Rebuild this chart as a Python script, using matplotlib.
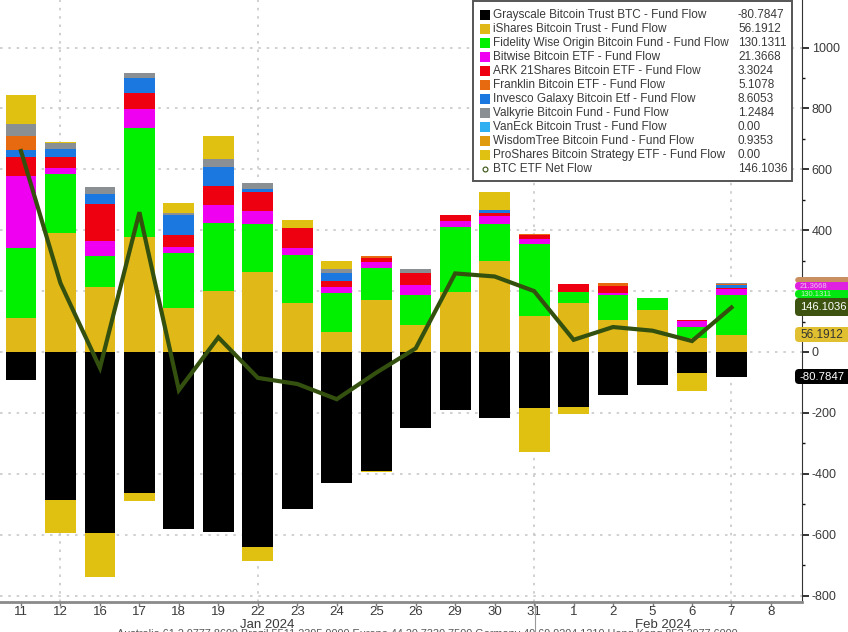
#!/usr/bin/env python3
"""Daily spot bitcoin ETF fund flows, stacked by fund, with net flow line."""

import matplotlib
matplotlib.use("Agg")
import matplotlib.pyplot as plt
import numpy as np
from matplotlib.patches import FancyBboxPatch, Rectangle
from matplotlib.transforms import Affine2D

plt.rcParams["font.family"] = ["Liberation Sans", "DejaVu Sans"]
plt.rcParams["axes.unicode_minus"] = False

days = ["11", "12", "16", "17", "18", "19", "22", "23", "24", "25", "26", "29", "30", "31",
        "1", "2", "5", "6", "7", "8"]

grayscale = [-92, -485, -593, -462, -580, -590, -640, -515, -430, -390, -250, -190, -216, -183, -180, -140, -108, -70, -80.78]
outflow_gold = [0, -108, -145, -26, 0, 0, -45, 0, 0, -5, 0, 0, 0, -145, -25, 0, 0, -58, 0]

ishares = [113, 390, 213, 377, 144, 200, 262, 160, 66, 170, 88, 197, 298, 118, 160, 105, 138, 46, 56.19]
fidelity = [227, 193, 102, 358, 181, 223, 158, 158, 127, 105, 99, 213, 122, 236, 37, 82, 38, 36, 130.13]
bitwise = [237, 20, 50, 62, 20, 59, 43, 24, 20, 20, 33, 20, 26, 16, 0, 6, 0, 20, 21.37]
ark = [63, 37, 120, 52, 38, 62, 62, 64, 20, 13, 38, 19, 10, 14, 25, 23, 0, 3, 3.30]
invesco = [22, 28, 33, 51, 66, 63, 10, 0, 26, 0, 0, 0, 10, 0, 0, 0, 0, 0, 8.61]
franklin = [46, 0, 0, 0, 0, 0, 0, 0, 0, 7, 0, 0, 0, 4, 0, 10, 0, 0, 5.11]
valkyrie = [42, 17, 23, 15, 6, 26, 19, 0, 13, 0, 14, 0, 0, 0, 0, 0, 0, 0, 1.25]
wisdomtree = [0, 0, 0, 0, 0, 0, 0, 0, 0, 0, 0, 0, 0, 0, 0, 0, 0, 0, 0.94]
proshares = [95, 5, 0, 0, 33, 75, 0, 26, 28, 0, 0, 0, 59, 0, 0, 0, 0, 0, 0]
net_flow = [660, 226, -52, 459, -125, 48, -85, -105, -155, -68, 12, 258, 248, 200, 40, 82, 70, 36, 146.10]

fund_names = [
    "Grayscale Bitcoin Trust BTC - Fund Flow",
    "iShares Bitcoin Trust - Fund Flow",
    "Fidelity Wise Origin Bitcoin Fund - Fund Flow",
    "Bitwise Bitcoin ETF - Fund Flow",
    "ARK 21Shares Bitcoin ETF - Fund Flow",
    "Franklin Bitcoin ETF - Fund Flow",
    "Invesco Galaxy Bitcoin Etf - Fund Flow",
    "Valkyrie Bitcoin Fund - Fund Flow",
    "VanEck Bitcoin Trust - Fund Flow",
    "WisdomTree Bitcoin Fund - Fund Flow",
    "ProShares Bitcoin Strategy ETF - Fund Flow",
]
last_values = ["-80.7847", "56.1912", "130.1311", "21.3668", "3.3024", "5.1078", "8.6053", "1.2484", "0.00", "0.9353", "0.00"]
fund_colors = ["#000000", "#e0b818", "#00f000", "#f000f0", "#ee0010", "#e86a10", "#1a78e0", "#8a8f94", "#30b0f0", "#e09a10", "#e0c010"]

footer = "Australia 61 2 9777 8600 Brazil 5511 2395 9000 Europe 44 20 7330 7500 Germany 49 69 9204 1210 Hong Kong 852 2977 6000"

W, H = 848, 632
TEXT = "#3a3a3a"
LINE = "#34500f"

fig = plt.figure(figsize=(W / 100, H / 100), dpi=100)
# pixel coordinates, origin top-left, for the furniture outside the plot
px = Affine2D().scale(1 / W, -1 / H).translate(0, 1) + fig.transFigure

ax = fig.add_axes([0, 1 - 601.5 / H, 802 / W, 601.5 / H])

x = np.arange(len(grayscale))
step = 39.47
ax.set_xlim(-21 / step, (802 - 21) / step)
per_px = 1000 / 304.5
ax.set_ylim(-(601.5 - 352) * per_px, 352 * per_px)

bar_w = 0.78
stack = [ishares, fidelity, bitwise, ark, invesco, franklin, valkyrie, wisdomtree, proshares]
stack_cols = ["#e0b818", "#00f000", "#f000f0", "#ee0010", "#1a78e0", "#e86a10", "#8a8f94", "#e09a10", "#e0c010"]
bottom = np.zeros(len(x))
for vals, col in zip(stack, stack_cols):
    ax.bar(x, vals, bar_w, bottom=bottom, color=col, linewidth=0, zorder=3)
    bottom += np.array(vals, dtype=float)
ax.bar(x, grayscale, bar_w, color="#000000", linewidth=0, zorder=3)
ax.bar(x, outflow_gold, bar_w, bottom=grayscale, color="#e0c010", linewidth=0, zorder=3)

ax.plot(x, net_flow, color=LINE, lw=3, solid_joinstyle="miter", zorder=4)

ax.set_yticks(np.arange(-800, 1001, 200))
ax.set_yticks(np.arange(-700, 1001, 200), minor=True)
ax.grid(axis="y", which="major", color="#c8c8c8", ls=(0, (1.5, 3.5)), lw=1.2, zorder=1)
for i in [1, 6, 13, 18]:
    ax.axvline(i, color="#c8c8c8", ls=(0, (1.5, 3.5)), lw=1.2, zorder=1)

ax.set_xticks(np.arange(len(days)))
ax.set_xticklabels(days, fontsize=9.5, color=TEXT)
ax.yaxis.tick_right()
ax.tick_params(axis="y", which="major", length=5, width=1.2, color="#111111", labelsize=9, labelcolor=TEXT, pad=2)
ax.tick_params(axis="y", which="minor", length=2.5, width=1, color="#111111")
ax.tick_params(axis="x", length=3, width=1, color="#777777", pad=0.5)
for side in ["top", "left"]:
    ax.spines[side].set_visible(False)
ax.spines["right"].set_color("#333333")
ax.spines["bottom"].set_color("#8a8a8a")
ax.spines["bottom"].set_linewidth(2)

# month labels under the ticks
fig.text(267 / W, 1 - 624.5 / H, "Jan 2024", ha="center", va="center", fontsize=9.5, color=TEXT)
fig.text(663 / W, 1 - 624.5 / H, "Feb 2024", ha="center", va="center", fontsize=9.5, color=TEXT)
fig.add_artist(plt.Line2D([535, 535], [603, 632], color="#999999", lw=0.8, transform=px))

# footer is cut by the bottom edge
fig.text(117 / W, 1 - 629 / H, footer, ha="left", va="top", fontsize=7.8, color="#555555")

# last value pills on the right axis, lower ones drawn over upper ones
pills = [
    (277, 283, "", "#c89060", TEXT, 5.5),
    (282, 290, "21.3668", "#e020e0", "#f0c0f0", 5.5),
    (290, 298, "130.1311", "#00e810", "#c8f0c8", 5.5),
    (298, 316, "146.1036", "#3c5410", "#ffffff", 8),
    (327, 342, "56.1912", "#e0c030", "#333333", 8.5),
    (369, 384, "-80.7847", "#000000", "#ffffff", 8.2),
]
for n, (top, low, txt, bg, fg, size) in enumerate(pills):
    fig.add_artist(FancyBboxPatch((796, top + 1), 70, low - top - 2, boxstyle="round,pad=1,rounding_size=4",
                                  transform=px, fc=bg, ec="none", zorder=5 + n * 0.1))
    if txt:
        fig.text(800 / W, 1 - (top + low) / 2 / H, txt, ha="left", va="center", fontsize=size, color=fg, zorder=6)

# legend box
lx0, ly0, lx1, ly1 = 473, 1, 792, 181
fig.add_artist(Rectangle((lx0, ly0), lx1 - lx0, ly1 - ly0, transform=px, fc="white", ec="#555555", lw=1.4, zorder=7))
for i, (name, val, col) in enumerate(zip(fund_names, last_values, fund_colors)):
    py = 14.8 + i * 14.0
    fig.add_artist(Rectangle((480, py - 5), 10, 10, transform=px, fc=col, ec="none", zorder=8))
    fig.text(493 / W, 1 - py / H, name, ha="left", va="center", fontsize=8.5, color=TEXT, zorder=8)
    fig.text(738 / W, 1 - py / H, val, ha="left", va="center", fontsize=8.5, color=TEXT, zorder=8)
py = 14.8 + 11 * 14.0
fig.add_artist(plt.Line2D([485], [py], marker="o", ms=3.5, mfc="white", mec=LINE, mew=0.8, transform=px, zorder=8))
fig.text(493 / W, 1 - py / H, "BTC ETF Net Flow", ha="left", va="center", fontsize=8.5, color=TEXT, zorder=8)
fig.text(738 / W, 1 - py / H, "146.1036", ha="left", va="center", fontsize=8.5, color=TEXT, zorder=8)

fig.savefig("out.png", dpi=100)
plt.close(fig)
